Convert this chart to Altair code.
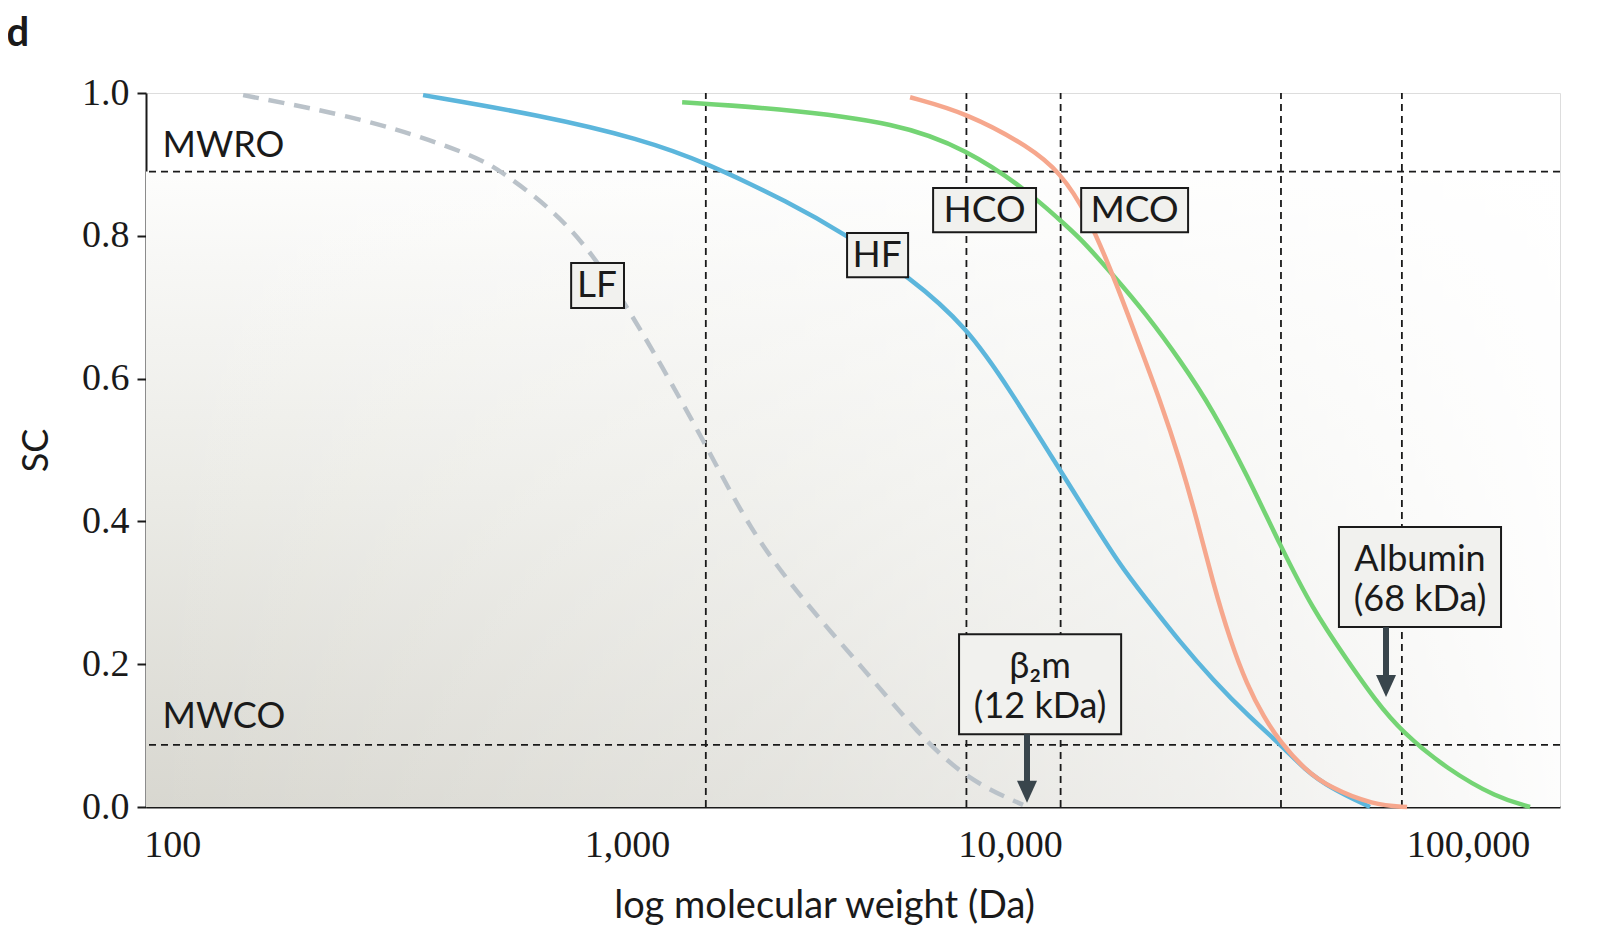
import altair as alt
import pandas as pd

# ---------------- data ----------------
x_domain = [87, 163300]
x_ticks = [100, 1000, 10000, 100000]
y_ticks = [0.0, 0.2, 0.4, 0.6, 0.8, 1.0]

lf_x = [146, 292, 498, 574, 779, 963, 1130, 1348, 1732, 2178, 2843, 4063, 5303, 6923, 9330]
lf_y = [0.997, 0.962, 0.913, 0.892, 0.832, 0.766, 0.700, 0.622, 0.504, 0.388, 0.294, 0.188, 0.104, 0.038, 0.003]

hf_x = [381, 711, 1212, 1732, 2696, 3574, 5110, 6923, 8704, 11360, 12650, 15650, 18070, 21540,
        25680, 31290, 36910, 41950, 47920, 59310]
hf_y = [0.997, 0.969, 0.936, 0.902, 0.846, 0.804, 0.742, 0.672, 0.584, 0.472, 0.427, 0.338, 0.290, 0.231,
        0.178, 0.125, 0.087, 0.052, 0.027, 0.0]

hco_x = [1516, 2462, 4844, 6923, 9330, 11360, 12650, 15080, 18070, 21540, 25680, 30790, 36710, 43770,
         52480, 60920, 70360, 89430, 116700, 139200]
hco_y = [0.987, 0.979, 0.958, 0.920, 0.868, 0.822, 0.797, 0.745, 0.689, 0.626, 0.556, 0.465, 0.367, 0.276,
         0.206, 0.150, 0.105, 0.053, 0.013, 0.0]

mco_x = [5110, 6923, 9685, 11360, 13130, 15400, 17410, 19360, 21540, 23590, 25680, 28120, 30790, 33720,
         36910, 41950, 47920, 60270, 72260]
mco_y = [0.994, 0.972, 0.924, 0.889, 0.832, 0.731, 0.644, 0.570, 0.486, 0.402, 0.314, 0.234, 0.171, 0.125,
         0.090, 0.052, 0.027, 0.003, 0.0]

series_names = ["LF", "HF", "HCO", "MCO"]
series_colors = ["#bac2c9", "#5cb6dc", "#74d474", "#f6a78d"]

mwro = 0.89
mwco = 0.087
cutoff_x = [1720, 6900, 11400, 36900, 70300]

box_labels = ["LF", "HF", "HCO", "MCO"]
box_x1 = [839, 3652, 5777, 12720]
box_x2 = [1112, 5056, 10000, 22490]
box_y1 = [0.699, 0.742, 0.805, 0.805]
box_y2 = [0.762, 0.804, 0.867, 0.867]
box_tx = [963, 4285, 7600, 16910]
box_ty = [0.731, 0.773, 0.836, 0.836]

marker_names = ["β2m", "Albumin"]
marker_x1 = [6634, 50260]
marker_x2 = [15740, 119260]
marker_y1 = [0.102, 0.252]
marker_y2 = [0.242, 0.392]
marker_tx = [10220, 77440]
marker_line1 = ["β₂m", "Albumin"]
marker_line2 = ["(12 kDa)", "(68 kDa)"]
marker_l1_y = [0.196, 0.346]
marker_l2_y = [0.140, 0.290]
arrow_x = [9530, 64600]
arrow_top = [0.102, 0.252]
arrow_tip = [0.006, 0.154]

ref_labels = ["MWRO", "MWCO"]
ref_label_x = [95, 95]
ref_label_y = [0.910, 0.111]

FONT = "Lato"
TICKFONT = "Liberation Serif"
INK = "#1a1a1a"

# ---------------- tables ----------------
curves = pd.concat([
    pd.DataFrame({"mw": lf_x, "sc": lf_y, "series": "LF"}),
    pd.DataFrame({"mw": hf_x, "sc": hf_y, "series": "HF"}),
    pd.DataFrame({"mw": hco_x, "sc": hco_y, "series": "HCO"}),
    pd.DataFrame({"mw": mco_x, "sc": mco_y, "series": "MCO"}),
], ignore_index=True)

bg = pd.DataFrame({"x1": [x_domain[0]], "x2": [x_domain[1]], "y1": [0.0], "y2": [mwro]})
hlines = pd.DataFrame({"sc": [mwro, mwco]})
vlines = pd.DataFrame({"mw": cutoff_x, "y1": 0.0, "y2": 1.0})
boxes = pd.DataFrame({"label": box_labels, "x1": box_x1, "x2": box_x2, "y1": box_y1, "y2": box_y2,
                      "tx": box_tx, "ty": box_ty})
mboxes = pd.DataFrame({"name": marker_names, "x1": marker_x1, "x2": marker_x2,
                       "y1": marker_y1, "y2": marker_y2})
mtext = pd.DataFrame({
    "tx": marker_tx + marker_tx,
    "ty": marker_l1_y + marker_l2_y,
    "text": marker_line1 + marker_line2,
})
arrows = pd.DataFrame({"mw": arrow_x, "top": arrow_top, "tip": arrow_tip})
arrows["shaft_end"] = arrows["tip"] + 0.03
reftext = pd.DataFrame({"label": ref_labels, "mw": ref_label_x, "sc": ref_label_y})

# ---------------- scales ----------------
xs = alt.Scale(type="log", domain=x_domain, nice=False)
ys = alt.Scale(domain=[0, 1], nice=False)

x_axis = alt.Axis(
    values=x_ticks, format=",d", ticks=False, grid=False, labelFlush=False,
    labelFont=TICKFONT, labelFontSize=38, labelColor=INK, labelPadding=19,
    labelOffset={"condition": [{"test": "datum.value == 1000", "value": 23},
                               {"test": "datum.value == 10000", "value": -26}],
                 "value": 0},
    domainColor=INK, domainWidth=2,
    title="log molecular weight (Da)", titleFont=FONT, titleFontSize=38,
    titleFontWeight="normal", titleColor=INK, titleX=678, titleY=99,
    titleAnchor="middle", titleBaseline="middle",
)
y_axis = alt.Axis(
    values=y_ticks, format=".1f", tickSize=9, tickWidth=2, tickColor=INK, grid=False,
    labelFont=TICKFONT, labelFontSize=38, labelColor=INK, labelPadding=8,
    domainColor=INK, domainWidth=2,
    title="SC", titleFont=FONT, titleFontSize=36, titleFontWeight="normal",
    titleColor=INK, titlePadding=26,
)

X = lambda f: alt.X(f, type="quantitative", scale=xs, axis=x_axis)
Y = lambda f: alt.Y(f, type="quantitative", scale=ys, axis=y_axis)

vert_grad = alt.LinearGradient(
    gradient="linear",
    stops=[alt.GradientStop(offset=0, color="#d8d7d0"),
           alt.GradientStop(offset=0.5, color="#ebebe6"),
           alt.GradientStop(offset=0.85, color="#f7f7f5"),
           alt.GradientStop(offset=1, color="#fdfdfc")],
    x1=0, y1=1, x2=0, y2=0,
)
horiz_grad = alt.LinearGradient(
    gradient="linear",
    stops=[alt.GradientStop(offset=0, color="rgba(255,255,255,0)"),
           alt.GradientStop(offset=0.45, color="rgba(255,255,255,0.3)"),
           alt.GradientStop(offset=0.75, color="rgba(255,255,255,0.6)"),
           alt.GradientStop(offset=1, color="rgba(255,255,255,0.95)")],
    x1=0, y1=0, x2=1, y2=0,
)

bg_layer = alt.Chart(bg).mark_rect(fill=vert_grad).encode(
    x=X("x1"), x2="x2", y=Y("y1"), y2="y2")
bg_layer2 = alt.Chart(bg).mark_rect(fill=horiz_grad).encode(
    x=X("x1"), x2="x2", y=Y("y1"), y2="y2")

h_layer = alt.Chart(hlines).mark_rule(color=INK, strokeWidth=1.8, strokeDash=[7, 5]).encode(
    y=Y("sc"))
v_layer = alt.Chart(vlines).mark_rule(color=INK, strokeWidth=1.8, strokeDash=[7, 5]).encode(
    x=X("mw"), y=Y("y1"), y2="y2")

color_scale = alt.Scale(domain=series_names, range=series_colors)

solid = alt.Chart(curves).transform_filter("datum.series != 'LF'").mark_line(
    strokeWidth=4.5, interpolate="basis", strokeCap="butt").encode(
    x=X("mw"), y=Y("sc"),
    color=alt.Color("series:N", scale=color_scale, legend=None),
    detail="series:N", order="mw:Q")

dashed = alt.Chart(curves).transform_filter("datum.series == 'LF'").mark_line(
    strokeWidth=4.5, interpolate="basis", strokeDash=[16, 10], strokeCap="butt").encode(
    x=X("mw"), y=Y("sc"),
    color=alt.Color("series:N", scale=color_scale, legend=None),
    order="mw:Q")

box_layer = alt.Chart(boxes).mark_rect(fill="#f1f1ee", stroke=INK, strokeWidth=2).encode(
    x=X("x1"), x2="x2", y=Y("y1"), y2="y2")
box_text = alt.Chart(boxes).mark_text(font=FONT, fontSize=37, color=INK, baseline="middle",
                                      align="center", dy=1).encode(
    x=X("tx"), y=Y("ty"), text="label:N")

mbox_layer = alt.Chart(mboxes).mark_rect(fill="#f1f1ee", stroke=INK, strokeWidth=2).encode(
    x=X("x1"), x2="x2", y=Y("y1"), y2="y2")
mtext_layer = alt.Chart(mtext).mark_text(font=FONT, fontSize=36, color=INK, baseline="middle",
                                         align="center").encode(
    x=X("tx"), y=Y("ty"), text="text:N")

shaft = alt.Chart(arrows).mark_rule(color="#39454c", strokeWidth=6).encode(
    x=X("mw"), y=Y("top"), y2="shaft_end")
head = alt.Chart(arrows).mark_point(
    shape="M -1 -2.2 L 1 -2.2 L 0 0 Z", size=400, filled=True, color="#39454c", opacity=1,
    strokeWidth=0).encode(x=X("mw"), y=Y("tip"))

ref_text = alt.Chart(reftext).mark_text(font=FONT, fontSize=36, color=INK, align="left",
                                        baseline="alphabetic").encode(
    x=X("mw"), y=Y("sc"), text="label:N")

chart = alt.layer(
    bg_layer, bg_layer2, h_layer, v_layer, dashed, solid, box_layer, box_text,
    mbox_layer, mtext_layer, shaft, head, ref_text,
).properties(
    width=1414, height=714,
    title=alt.TitleParams("d", anchor="start", frame="bounds", font=FONT, fontSize=40,
                          fontWeight="bold", color=INK, dx=-12, offset=20),
    padding={"left": 138, "top": 85, "right": 32, "bottom": 118},
    autosize=alt.AutoSizeParams(type="none"),
).configure_view(stroke=None).configure(background="white")

chart.save("out.html", embed_options={"renderer": "svg", "actions": False})
